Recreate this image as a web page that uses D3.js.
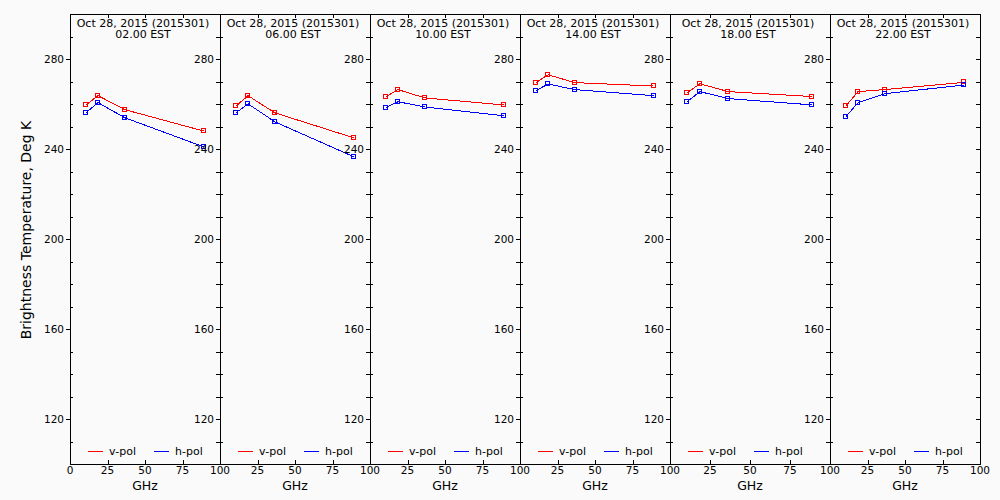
<!DOCTYPE html>
<html>
<head>
<script src="https://cdnjs.cloudflare.com/ajax/libs/d3/7.8.5/d3.min.js"></script>
<style type='text/css'>
  body { margin: 0; background: #fafafa; }
  svg { display: block; background: #fafafa; }
  text { font-family: "DejaVu Sans", sans-serif; fill: #000; }
  .axis line, .frame { stroke: #000; stroke-width: 1; shape-rendering: crispEdges; fill: none; }
  .series, .marker, .key { shape-rendering: crispEdges; }
</style>
</head>
<body>
<div id='chart'></div>
<script type='text/javascript'>
// channel frequencies, GHz
var freqs = [10.65, 18.7, 36.5, 89.0];
var dateLabel = 'Oct 28, 2015 (2015301)';
var times = ['02.00 EST', '06.00 EST', '10.00 EST', '14.00 EST', '18.00 EST', '22.00 EST'];
// brightness temperature, Deg K, one row per panel
var vpol = [
  [259.6, 263.7, 257.5, 248.0],
  [259.1, 263.7, 256.1, 245.0],
  [263.3, 266.4, 262.7, 259.6],
  [269.5, 273.0, 269.5, 268.0],
  [265.0, 269.0, 265.5, 263.3],
  [259.2, 265.5, 266.4, 269.6]
];
var hpol = [
  [256.1, 260.6, 253.9, 241.0],
  [256.1, 260.1, 252.1, 236.6],
  [258.4, 261.0, 258.7, 254.8],
  [265.9, 268.9, 266.4, 263.7],
  [261.0, 265.5, 262.4, 259.6],
  [254.4, 260.6, 264.6, 268.4]
];
var xTicks = [0, 25, 50, 75, 100];
var yMajor = [120, 160, 200, 240, 280];
var yMinor = [110, 130, 140, 150, 170, 180, 190, 210, 220, 230, 250, 260, 270, 290];
var seriesNames = ['v-pol', 'h-pol'];
var seriesColors = ['#ff0000', '#0000ff'];

var W = 1000, H = 500;
var plotTop = 14, plotBottom = 464;
// panel edges in pixels (the 5th panel is a bit wider in the original)
var edges = [70, 220, 370, 520, 670, 830, 980];

var svg = d3.select('#chart').append('svg')
  .attr('width', W).attr('height', H);

var y = d3.scaleLinear().domain([100, 300]).range([plotBottom, plotTop]);

svg.append('text')
  .attr('transform', 'translate(31,230) rotate(-90)')
  .attr('text-anchor', 'middle')
  .style('font-size', '14px')
  .text('Brightness Temperature, Deg K');

times.forEach(function(t, p) {
  var x0 = edges[p], x1 = edges[p + 1];
  var x = d3.scaleLinear().domain([0, 100]).range([x0, x1]);
  var g = svg.append('g');

  // frame
  g.append('rect').attr('class', 'frame')
    .attr('x', x0).attr('y', plotTop).attr('width', x1 - x0).attr('height', plotBottom - plotTop);

  // left axis: labelled major ticks out, minor ticks in
  g.append('g').attr('class', 'axis')
    .attr('transform', 'translate(' + x0 + ',0)')
    .call(d3.axisLeft(y).tickValues(yMajor).tickSize(4).tickPadding(2).tickFormat(d3.format('d')))
    .call(function(a) { a.select('.domain').remove(); a.selectAll('text').style('font-size', '10.5px').style('font-family', '"DejaVu Sans", sans-serif'); });
  g.append('g').attr('class', 'axis')
    .attr('transform', 'translate(' + x0 + ',0)')
    .call(d3.axisRight(y).tickValues(yMinor).tickSize(3).tickFormat(''))
    .call(function(a) { a.select('.domain').remove(); });
  // right axis: all ticks inward
  g.append('g').attr('class', 'axis')
    .attr('transform', 'translate(' + x1 + ',0)')
    .call(d3.axisLeft(y).tickValues(yMajor.concat(yMinor)).tickSize(4).tickFormat(''))
    .call(function(a) { a.select('.domain').remove(); });

  // bottom axis
  g.append('g').attr('class', 'axis')
    .attr('transform', 'translate(0,' + plotBottom + ')')
    .call(d3.axisTop(x).tickValues(xTicks.slice(1, -1)).tickSize(4).tickFormat(''))
    .call(function(a) { a.select('.domain').remove(); });
  g.append('g')
    .selectAll('text')
    .data(p === 0 ? xTicks : xTicks.slice(1))
    .join('text')
    .attr('x', function(d) { return x(d); })
    .attr('y', plotBottom + 10)
    .attr('text-anchor', 'middle')
    .style('font-size', '10.5px')
    .text(function(d) { return d; });
  // top axis
  g.append('g').attr('class', 'axis')
    .attr('transform', 'translate(0,' + plotTop + ')')
    .call(d3.axisBottom(x).tickValues(xTicks.slice(1, -1)).tickSize(4).tickFormat(''))
    .call(function(a) { a.select('.domain').remove(); });

  g.append('text')
    .attr('x', (x0 + x1) / 2).attr('y', 490)
    .attr('text-anchor', 'middle')
    .style('font-size', '12.5px')
    .text('GHz');

  // titles
  g.append('text')
    .attr('x', (x0 + x1) / 2 - 2).attr('y', 27)
    .attr('text-anchor', 'middle')
    .style('font-size', '11px')
    .text(dateLabel);
  g.append('text')
    .attr('x', (x0 + x1) / 2 - 2).attr('y', 38)
    .attr('text-anchor', 'middle')
    .style('font-size', '11px')
    .text(t);

  // series
  [vpol[p], hpol[p]].forEach(function(vals, s) {
    var pts = freqs.map(function(f, i) { return [f, vals[i]]; });
    var line = d3.line().x(function(d) { return x(d[0]); }).y(function(d) { return y(d[1]); });
    g.append('path')
      .attr('class', 'series')
      .attr('d', line(pts))
      .attr('fill', 'none')
      .attr('stroke', seriesColors[s])
      .attr('stroke-width', 1);
    g.selectAll('rect.m' + s)
      .data(pts)
      .join('rect')
      .attr('class', 'marker m' + s)
      .attr('x', function(d) { return Math.round(x(d[0])) - 2.5; })
      .attr('y', function(d) { return Math.round(y(d[1])) - 2.5; })
      .attr('width', 4).attr('height', 4)
      .attr('fill', 'none')
      .attr('stroke', seriesColors[s])
      .attr('stroke-width', 1);
  });

  // legend
  var lx = [x0 + 18, x0 + 84];
  seriesNames.forEach(function(name, s) {
    g.append('line')
      .attr('class', 'key')
      .attr('x1', lx[s]).attr('x2', lx[s] + 15)
      .attr('y1', 451.5).attr('y2', 451.5)
      .attr('stroke', seriesColors[s]).attr('stroke-width', 1);
    g.append('text')
      .attr('x', lx[s] + 21).attr('y', 455)
      .style('font-size', '11px')
      .text(name);
  });
});
</script>
</body>
</html>
